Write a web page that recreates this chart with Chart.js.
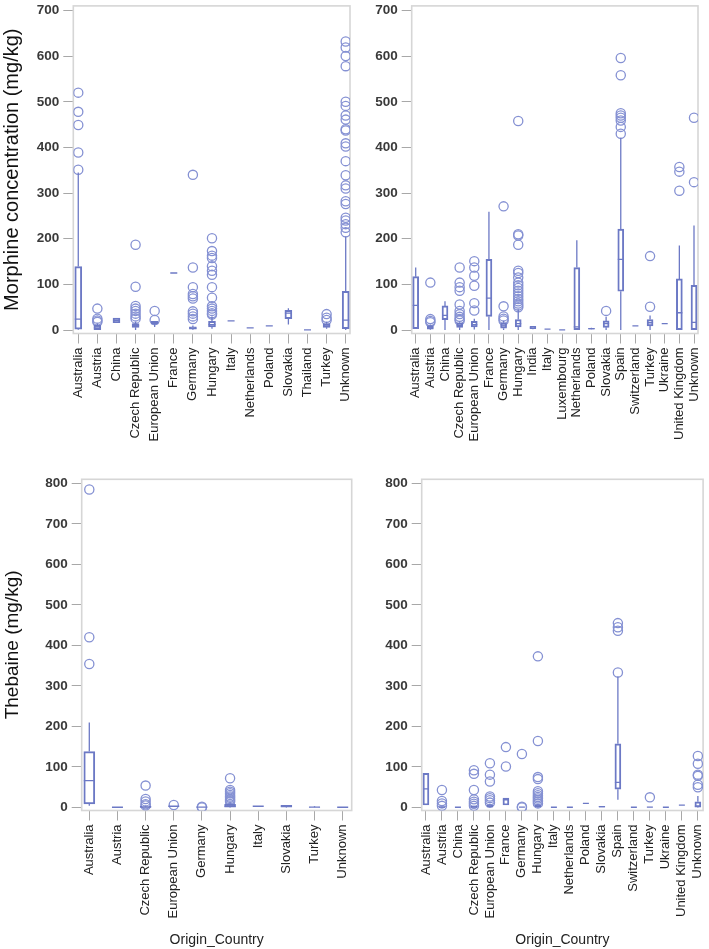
<!DOCTYPE html>
<html><head><meta charset="utf-8">
<script src="https://cdn.jsdelivr.net/npm/chart.js@4.4.1/dist/chart.umd.min.js"></script>
<style>
html,body{margin:0;padding:0;background:#fff;}
body{position:relative;width:709px;height:949px;overflow:hidden;}
canvas{position:absolute;}
</style></head><body>
<canvas id="m1" width="360" height="460" style="left:0;top:0"></canvas>
<canvas id="m2" width="349" height="460" style="left:360px;top:0"></canvas>
<canvas id="t1" width="360" height="489" style="left:0;top:460px"></canvas>
<canvas id="t2" width="349" height="489" style="left:360px;top:460px"></canvas>
<script>
// ---------- DATA ----------
const morphineTicks = [0, 100, 200, 300, 400, 500, 600, 700];
const thebaineTicks = [0, 100, 200, 300, 400, 500, 600, 700, 800];

// Panel 1: Morphine (left)
const m1Cats = ['Australia','Austria','China','Czech Republic','European Union','France','Germany','Hungary','Italy','Netherlands','Poland','Slovakia','Thailand','Turkey','Unknown'];
const m1Low    = [0, 0, 16, 0, 7, 125, 0, 3, 20, 5, 9, 12, 0.5, 3, 0];
const m1Q1     = [2, 1, 16, 6, 13, 125, 2, 7, 20, 5, 9, 25, 0.5, 6, 3];
const m1Median = [24, 5, 21, 10, 16, 125, 4, 12, 20, 5, 9, 37, 0.5, 11, 22];
const m1Q3     = [139, 11, 26, 14, 19, 125, 7, 19, 20, 5, 9, 43, 0.5, 14, 85];
const m1High   = [345, 14, 26, 18, 20, 125, 10, 30, 20, 5, 9, 48, 0.5, 18, 205];
const m1Outliers = [
  [520,478,449,389,351],
  [47,25,21,18],
  [],
  [187,95,53,47,42,36,30,25],
  [42,22],
  [],
  [340,137,94,79,74,69,41,36,30,24],
  [201,173,163,158,140,130,121,94,71,52,47,42,37,34],
  [],[],[],[],[],
  [35,27,22],
  [632,619,600,578,500,491,470,461,440,437,409,402,370,339,317,310,282,276,246,240,232,224,214]
];

// Panel 2: Morphine (right)
const m2Cats = ['Australia','Austria','China','Czech Republic','European Union','France','Germany','Hungary','India','Italy','Luxembourg','Netherlands','Poland','Slovakia','Spain','Switzerland','Turkey','Ukraine','United Kingdom','Unknown'];
const m2Low    = [3, 0, 0, 0, 1, 0, 0, 0, 2, 2, 0.5, 0, 1, 0, 0, 9, 0, 14, 0, 0];
const m2Q1     = [3, 2, 23, 6, 7, 30, 4, 7, 3, 2, 0.5, 0, 2, 6, 85, 9, 9, 14, 1, 1];
const m2Median = [54, 5, 32, 10, 12, 70, 9, 14, 5, 2, 0.5, 7, 3, 14, 155, 9, 16, 14, 38, 17];
const m2Q3     = [117, 10, 53, 16, 19, 155, 16, 23, 8, 2, 0.5, 137, 4, 20, 221, 9, 23, 14, 112, 98];
const m2High   = [137, 12, 63, 18, 25, 259, 20, 45, 8, 2, 0.5, 197, 5, 29, 421, 9, 32, 14, 185, 229];
const m2Outliers = [
  [],
  [104,24,20,17],
  [],
  [137,104,94,86,56,42,35,29,24,21],
  [151,137,119,97,59,43],
  [],
  [271,52,30,25,21],
  [458,210,207,187,130,125,115,104,98,92,86,80,74,68,63,58,54,50],
  [],[],[],[],[],
  [42],
  [596,558,475,470,465,459,445,430],
  [],
  [162,51],
  [],
  [357,347,305],
  [465,324]
];

// Panel 3: Thebaine (left)
const t1Cats = ['Australia','Austria','Czech Republic','European Union','Germany','Hungary','Italy','Slovakia','Turkey','Unknown'];
const t1Low    = [4, 0.5, 0, 3, 1, 0, 3, 0, 0, 0.5];
const t1Q1     = [9, 0.5, 0.5, 3, 1, 1, 3, 1, 0.5, 0.5];
const t1Median = [66, 0.5, 1, 3, 1, 3, 3, 3, 1, 0.5];
const t1Q3     = [138, 0.5, 3, 3, 1, 8, 3, 5, 1, 0.5];
const t1High   = [210, 0.5, 4, 3, 1, 12, 3, 6, 3, 0.5];
const t1Outliers = [[785,420,354],[],[54,21,15,8,5],[6],[0,2],[72,43,39,35,31,27,24,20,17,14],[],[],[],[]];

// Panel 4: Thebaine (right)
const t2Cats = ['Australia','Austria','China','Czech Republic','European Union','France','Germany','Hungary','Italy','Netherlands','Poland','Slovakia','Spain','Switzerland','Turkey','Ukraine','United Kingdom','Unknown'];
const t2Low    = [6, 0, 0.5, 0, 0, 6, 1, 0, 0.5, 0.5, 10, 1, 19, 0.5, 1, 0.5, 6, 0];
const t2Q1     = [6, 0.5, 0.5, 0.5, 1, 6, 1, 1, 0.5, 0.5, 10, 1, 45, 0.5, 1, 0.5, 6, 1];
const t2Median = [46, 1, 0.5, 1, 3, 19, 1, 3, 0.5, 0.5, 10, 2, 62, 0.5, 1, 0.5, 6, 3];
const t2Q3     = [84, 2, 0.5, 3, 6, 23, 1, 6, 0.5, 0.5, 10, 3, 157, 0.5, 1, 0.5, 6, 14];
const t2High   = [84, 3, 0.5, 4, 8, 23, 1, 8, 0.5, 0.5, 10, 3, 323, 0.5, 1, 0.5, 6, 28];
const t2Outliers = [[],[43,16,10,4],[],[92,83,43,20,14,9,4],[109,81,64,27,23,18,12],[149,101],[132,2,0],[373,164,75,70,40,35,30,26,22,18,14,10],[],[],[],[],[455,445,436,333],[],[25],[],[],[127,108,81,78,56,50]];

// ---------- STYLE / LAYOUT ----------
const MARK = '#6c79c5';
const CIRCLE = '#8591d3';
Chart.defaults.font.family = 'Arial, "Liberation Sans", sans-serif';
Chart.defaults.animation = false;

const framePlugin = {
  id: 'frame',
  beforeDatasetsDraw(chart) {
    const {ctx, chartArea: a} = chart;
    ctx.save();
    ctx.strokeStyle = '#d6d6d6';
    ctx.lineWidth = 1.6;
    ctx.strokeRect(a.left, a.top, a.right - a.left, a.bottom - a.top);
    ctx.restore();
  }
};

function boxPanel(id, cats, low, q1, med, q3, high, outl, yTicks, L) {
  const boxes = [], whisk = [], meds = [], pts = [];
  cats.forEach((c, i) => {
    if (q3[i] > q1[i]) boxes.push({x: i, y: [q1[i], q3[i]]});
    if (q1[i] > low[i]) whisk.push({x: i, y: low[i]}, {x: i, y: q1[i]}, {x: i, y: null});
    if (high[i] > q3[i]) whisk.push({x: i, y: q3[i]}, {x: i, y: high[i]}, {x: i, y: null});
    meds.push({x: i, y: med[i]});
    outl[i].forEach(v => pts.push({x: i, y: v}));
  });
  new Chart(document.getElementById(id), {
    type: 'bar',
    data: {
      datasets: [
        {type: 'scatter', data: meds, pointStyle: 'line', pointRadius: L.boxW / 2, pointHoverRadius: L.boxW / 2,
         borderColor: MARK, pointBorderWidth: 1.3, backgroundColor: MARK, showLine: false},
        {type: 'bar', data: boxes, backgroundColor: 'rgba(255,255,255,0)', borderColor: MARK, borderWidth: 1.3,
         borderSkipped: false, barThickness: L.boxW, grouped: false},
        {type: 'line', data: whisk, borderColor: MARK, borderWidth: 1.3, pointRadius: 0, spanGaps: false, fill: false, tension: 0},
        {type: 'scatter', data: pts, pointStyle: 'circle', pointRadius: 4.6, pointHoverRadius: 4.6,
         borderColor: CIRCLE, pointBorderWidth: 1.3, backgroundColor: 'rgba(0,0,0,0)', showLine: false}
      ]
    },
    options: {
      responsive: false,
      devicePixelRatio: 1,
      animation: false,
      layout: {padding: L.pad},
      plugins: {legend: {display: false}, tooltip: {enabled: false}},
      events: [],
      scales: {
        x: {
          type: 'linear', min: L.xMin, max: L.xMax, offset: false,
          afterBuildTicks: a => { a.ticks = cats.map((_, i) => ({value: i})); },
          afterFit: a => { a.height = L.xH; a.paddingLeft = 0; a.paddingRight = 0; },
          ticks: {autoSkip: false, minRotation: 90, maxRotation: 90, padding: 4, color: '#222',
                  font: {size: 13}, callback: v => cats[v] !== undefined ? cats[v] : ''},
          grid: {display: true, drawOnChartArea: false, drawTicks: true, tickLength: 10, color: '#a8a8a8', offset: false},
          border: {display: false},
          title: L.xTitle ? {display: true, text: L.xTitle, color: '#222', font: {size: 14}, padding: 0} : {display: false}
        },
        y: {
          type: 'linear', min: L.yMin, max: L.yMax,
          afterBuildTicks: a => { a.ticks = yTicks.map(v => ({value: v})); },
          afterFit: a => { a.width = L.yW; a.paddingTop = 0; a.paddingBottom = 0; },
          ticks: {padding: 4, color: '#3a3a3a', font: {size: 13.5, weight: 'bold'}},
          grid: {display: true, drawOnChartArea: false, drawTicks: true, tickLength: 10, color: '#a8a8a8'},
          border: {display: false},
          title: L.yTitle ? {display: true, text: L.yTitle, color: '#111', font: {size: L.yTitleSize}, padding: {top: L.yTitlePad, bottom: 0}} : {display: false}
        }
      }
    },
    plugins: [framePlugin]
  });
}

boxPanel('m1', m1Cats, m1Low, m1Q1, m1Median, m1Q3, m1High, m1Outliers, morphineTicks,
  {yW: 73.3, xH: 126.5, pad: {left: 0, top: 1.5, right: 10, bottom: 0}, xMin: -0.26, xMax: 14.225,
   yMin: -7.5, yMax: 710, boxW: 7, yTitle: 'Morphine concentration (mg/kg)', yTitleSize: 20, yTitlePad: 0});
boxPanel('m2', m2Cats, m2Low, m2Q1, m2Median, m2Q3, m2High, m2Outliers, morphineTicks,
  {yW: 51.7, xH: 126.5, pad: {left: 0, top: 1.5, right: 11, bottom: 0}, xMin: -0.273, xMax: 19.273,
   yMin: -7.5, yMax: 710, boxW: 6});
boxPanel('t1', t1Cats, t1Low, t1Q1, t1Median, t1Q3, t1High, t1Outliers, thebaineTicks,
  {yW: 81.7, xH: 138.5, pad: {left: 0, top: 19.3, right: 8.3, bottom: 0}, xMin: -0.27, xMax: 9.32,
   yMin: -7.5, yMax: 810, boxW: 11, yTitle: 'Thebaine (mg/kg)', yTitleSize: 19, yTitlePad: 1, xTitle: 'Origin_Country'});
boxPanel('t2', t2Cats, t2Low, t2Q1, t2Median, t2Q3, t2High, t2Outliers, thebaineTicks,
  {yW: 61.7, xH: 138.5, pad: {left: 0, top: 19.3, right: 2, bottom: 0}, xMin: -0.265, xMax: 17.327,
   yMin: -7.5, yMax: 810, boxW: 6, xTitle: 'Origin_Country'});
</script>
</body></html>
